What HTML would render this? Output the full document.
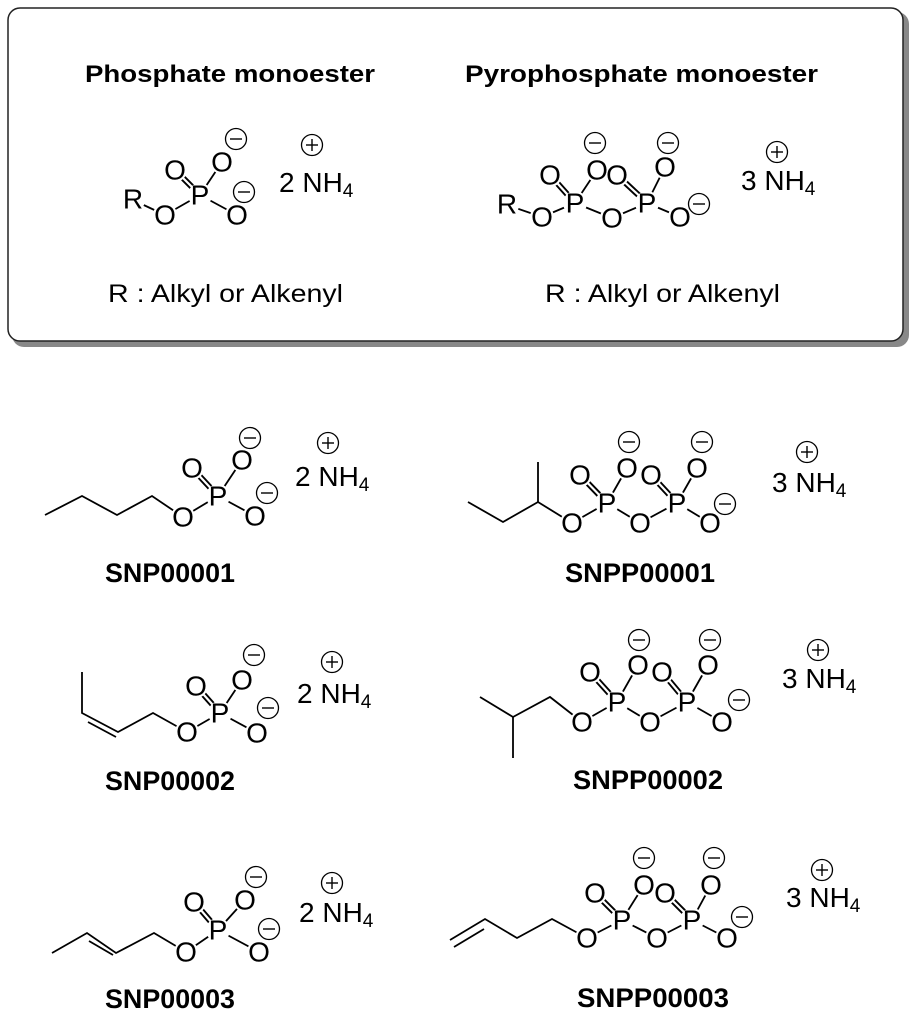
<!DOCTYPE html>
<html><head><meta charset="utf-8"><style>
html,body{margin:0;padding:0;background:#fff}
svg{display:block}
text{font-family:"Liberation Sans",Arial,sans-serif;fill:#000}
.a{font-size:28px;text-anchor:middle;dominant-baseline:central}
.n{font-size:28px}
.l{font-size:27px;font-weight:bold;text-anchor:middle}
line,polyline{stroke:#000;stroke-width:1.8;fill:none}
.d1{stroke-width:6}
.d2{stroke:#fff;stroke-width:2.2}
.bg{fill:#fff}
.ch{fill:#fff;stroke:#000;stroke-width:1.3}
</style></head><body>
<svg width="917" height="1024" viewBox="0 0 917 1024" xmlns="http://www.w3.org/2000/svg">
<defs>
<g id="minus"><circle class="ch" r="10.5"/><line x1="-6" y1="0" x2="6" y2="0" style="stroke-width:1.4"/></g>
<g id="plus"><circle class="ch" r="10.5"/><line x1="-6" y1="0" x2="6" y2="0" style="stroke-width:1.4"/><line x1="0" y1="-6" x2="0" y2="6" style="stroke-width:1.4"/></g>
</defs>
<rect x="12" y="12" width="897" height="335" rx="12" fill="#888"/>
<rect x="8" y="8" width="895" height="333" rx="12" fill="#fff" stroke="#222" stroke-width="1.5"/>
<text x="85" y="82" style="font-size:24px;font-weight:bold" textLength="290" lengthAdjust="spacingAndGlyphs">Phosphate monoester</text>
<text x="465" y="82" style="font-size:24px;font-weight:bold" textLength="353" lengthAdjust="spacingAndGlyphs">Pyrophosphate monoester</text>
<text x="108" y="302" style="font-size:25px" textLength="235" lengthAdjust="spacingAndGlyphs">R : Alkyl or Alkenyl</text>
<text x="545" y="302" style="font-size:25px" textLength="235" lengthAdjust="spacingAndGlyphs">R : Alkyl or Alkenyl</text>

<!-- header mono -->
<g>
<line x1="133" y1="200" x2="165" y2="215"/><line x1="165" y1="215" x2="200" y2="195"/>
<line class="d1" x1="175" y1="170" x2="200" y2="195"/><line class="d2" x1="175" y1="170" x2="200" y2="195"/>
<line x1="200" y1="195" x2="222" y2="162"/><line x1="200" y1="195" x2="237" y2="215"/>
<circle class="bg" cx="133" cy="200" r="12"/><circle class="bg" cx="165" cy="215" r="12"/><circle class="bg" cx="200" cy="195" r="12"/><circle class="bg" cx="175" cy="170" r="12"/><circle class="bg" cx="222" cy="162" r="12"/><circle class="bg" cx="237" cy="215" r="12"/>
<text class="a" x="133" y="199">R</text><text class="a" x="165" y="215">O</text><text class="a" x="200" y="195">P</text><text class="a" x="175" y="170">O</text><text class="a" x="222" y="162">O</text><text class="a" x="237" y="215">O</text>
<use href="#minus" x="236" y="139"/><use href="#minus" x="244" y="192"/>
<text class="n" x="279" y="192">2 NH<tspan font-size="19" dy="5">4</tspan></text><use href="#plus" x="312" y="145"/>
</g>

<!-- header pyro -->
<g>
<line x1="507" y1="205" x2="542" y2="217"/><line x1="542" y1="217" x2="575" y2="203"/>
<line class="d1" x1="550" y1="175" x2="575" y2="203"/><line class="d2" x1="550" y1="175" x2="575" y2="203"/>
<line x1="575" y1="203" x2="597" y2="170"/><line x1="575" y1="203" x2="612" y2="218"/><line x1="612" y1="218" x2="647" y2="203"/>
<line class="d1" x1="617" y1="175" x2="647" y2="203"/><line class="d2" x1="617" y1="175" x2="647" y2="203"/>
<line x1="647" y1="203" x2="665" y2="167"/><line x1="647" y1="203" x2="680" y2="217"/>
<circle class="bg" cx="507" cy="205" r="12"/><circle class="bg" cx="542" cy="217" r="12"/><circle class="bg" cx="575" cy="203" r="12"/><circle class="bg" cx="550" cy="175" r="12"/><circle class="bg" cx="597" cy="170" r="12"/><circle class="bg" cx="612" cy="218" r="12"/><circle class="bg" cx="647" cy="203" r="12"/><circle class="bg" cx="617" cy="175" r="12"/><circle class="bg" cx="665" cy="167" r="12"/><circle class="bg" cx="680" cy="217" r="12"/>
<text class="a" x="507" y="204">R</text><text class="a" x="542" y="217">O</text><text class="a" x="575" y="203">P</text><text class="a" x="550" y="175">O</text><text class="a" x="597" y="170">O</text><text class="a" x="612" y="218">O</text><text class="a" x="647" y="203">P</text><text class="a" x="617" y="175">O</text><text class="a" x="665" y="167">O</text><text class="a" x="680" y="217">O</text>
<use href="#minus" x="595" y="143"/><use href="#minus" x="668" y="143"/><use href="#minus" x="699" y="204"/>
<text class="n" x="741" y="190">3 NH<tspan font-size="19" dy="5">4</tspan></text><use href="#plus" x="777" y="152"/>
</g>

<!-- SNP00001 -->
<g>
<polyline points="45,515 82,496 117,515 152,496 183,517"/>
<line x1="183" y1="517" x2="218" y2="496"/>
<line class="d1" x1="192" y1="468" x2="218" y2="496"/><line class="d2" x1="192" y1="468" x2="218" y2="496"/>
<line x1="218" y1="496" x2="242" y2="460"/><line x1="218" y1="496" x2="255" y2="516"/>
<circle class="bg" cx="183" cy="517" r="12"/><circle class="bg" cx="218" cy="496" r="12"/><circle class="bg" cx="192" cy="468" r="12"/><circle class="bg" cx="242" cy="460" r="12"/><circle class="bg" cx="255" cy="516" r="12"/>
<text class="a" x="183" y="517">O</text><text class="a" x="218" y="496">P</text><text class="a" x="192" y="468">O</text><text class="a" x="242" y="460">O</text><text class="a" x="255" y="516">O</text>
<use href="#minus" x="250" y="438"/><use href="#minus" x="267" y="493"/>
<text class="n" x="295" y="486">2 NH<tspan font-size="19" dy="5">4</tspan></text><use href="#plus" x="328" y="443"/>
<text class="l" x="170" y="582" textLength="130" lengthAdjust="spacingAndGlyphs">SNP00001</text>
</g>

<!-- SNP00002 -->
<g>
<polyline points="82,672 82,713 118,732 153,713 187,732"/>
<line x1="88" y1="722" x2="116" y2="737"/>
<line x1="187" y1="732" x2="220" y2="713"/>
<line class="d1" x1="196" y1="686" x2="220" y2="713"/><line class="d2" x1="196" y1="686" x2="220" y2="713"/>
<line x1="220" y1="713" x2="242" y2="680"/><line x1="220" y1="713" x2="257" y2="733"/>
<circle class="bg" cx="187" cy="732" r="12"/><circle class="bg" cx="220" cy="713" r="12"/><circle class="bg" cx="196" cy="686" r="12"/><circle class="bg" cx="242" cy="680" r="12"/><circle class="bg" cx="257" cy="733" r="12"/>
<text class="a" x="187" y="732">O</text><text class="a" x="220" y="713">P</text><text class="a" x="196" y="686">O</text><text class="a" x="242" y="680">O</text><text class="a" x="257" y="733">O</text>
<use href="#minus" x="254" y="655"/><use href="#minus" x="268" y="708"/>
<text class="n" x="297" y="703">2 NH<tspan font-size="19" dy="5">4</tspan></text><use href="#plus" x="332" y="662"/>
<text class="l" x="170" y="790" textLength="130" lengthAdjust="spacingAndGlyphs">SNP00002</text>
</g>

<!-- SNP00003 -->
<g>
<polyline points="52,953 87,933 116,953 154,933 186,952"/>
<line x1="89" y1="941" x2="113" y2="955"/>
<line x1="186" y1="952" x2="218" y2="930"/>
<line class="d1" x1="194" y1="902" x2="218" y2="930"/><line class="d2" x1="194" y1="902" x2="218" y2="930"/>
<line x1="218" y1="930" x2="245" y2="900"/><line x1="218" y1="930" x2="259" y2="952"/>
<circle class="bg" cx="186" cy="952" r="12"/><circle class="bg" cx="218" cy="930" r="12"/><circle class="bg" cx="194" cy="902" r="12"/><circle class="bg" cx="245" cy="900" r="12"/><circle class="bg" cx="259" cy="952" r="12"/>
<text class="a" x="186" y="952">O</text><text class="a" x="218" y="930">P</text><text class="a" x="194" y="902">O</text><text class="a" x="245" y="900">O</text><text class="a" x="259" y="952">O</text>
<use href="#minus" x="256" y="877"/><use href="#minus" x="269" y="929"/>
<text class="n" x="299" y="922">2 NH<tspan font-size="19" dy="5">4</tspan></text><use href="#plus" x="332" y="883"/>
<text class="l" x="170" y="1008" textLength="130" lengthAdjust="spacingAndGlyphs">SNP00003</text>
</g>

<!-- SNPP00001 -->
<g>
<polyline points="468,502 503,522 538,502 572,523"/><line x1="538" y1="502" x2="538" y2="462"/>
<line x1="572" y1="523" x2="607" y2="503"/>
<line class="d1" x1="580" y1="475" x2="607" y2="503"/><line class="d2" x1="580" y1="475" x2="607" y2="503"/>
<line x1="607" y1="503" x2="627" y2="468"/><line x1="607" y1="503" x2="640" y2="523"/><line x1="640" y1="523" x2="677" y2="503"/>
<line class="d1" x1="651" y1="475" x2="677" y2="503"/><line class="d2" x1="651" y1="475" x2="677" y2="503"/>
<line x1="677" y1="503" x2="697" y2="468"/><line x1="677" y1="503" x2="710" y2="523"/>
<circle class="bg" cx="572" cy="523" r="12"/><circle class="bg" cx="607" cy="503" r="12"/><circle class="bg" cx="580" cy="475" r="12"/><circle class="bg" cx="627" cy="468" r="12"/><circle class="bg" cx="640" cy="523" r="12"/><circle class="bg" cx="677" cy="503" r="12"/><circle class="bg" cx="651" cy="475" r="12"/><circle class="bg" cx="697" cy="468" r="12"/><circle class="bg" cx="710" cy="523" r="12"/>
<text class="a" x="572" y="523">O</text><text class="a" x="607" y="503">P</text><text class="a" x="580" y="475">O</text><text class="a" x="627" y="468">O</text><text class="a" x="640" y="523">O</text><text class="a" x="677" y="503">P</text><text class="a" x="651" y="475">O</text><text class="a" x="697" y="468">O</text><text class="a" x="710" y="523">O</text>
<use href="#minus" x="629" y="442"/><use href="#minus" x="702" y="442"/><use href="#minus" x="725" y="504"/>
<text class="n" x="772" y="492">3 NH<tspan font-size="19" dy="5">4</tspan></text><use href="#plus" x="807" y="452"/>
<text class="l" x="640" y="582" textLength="150" lengthAdjust="spacingAndGlyphs">SNPP00001</text>
</g>

<!-- SNPP00002 -->
<g>
<polyline points="480,697 513,717 550,697 582,722"/><line x1="513" y1="717" x2="513" y2="758"/>
<line x1="582" y1="722" x2="617" y2="702"/>
<line class="d1" x1="590" y1="672" x2="617" y2="702"/><line class="d2" x1="590" y1="672" x2="617" y2="702"/>
<line x1="617" y1="702" x2="638" y2="665"/><line x1="617" y1="702" x2="650" y2="722"/><line x1="650" y1="722" x2="687" y2="702"/>
<line class="d1" x1="662" y1="672" x2="687" y2="702"/><line class="d2" x1="662" y1="672" x2="687" y2="702"/>
<line x1="687" y1="702" x2="708" y2="665"/><line x1="687" y1="702" x2="722" y2="722"/>
<circle class="bg" cx="582" cy="722" r="12"/><circle class="bg" cx="617" cy="702" r="12"/><circle class="bg" cx="590" cy="672" r="12"/><circle class="bg" cx="638" cy="665" r="12"/><circle class="bg" cx="650" cy="722" r="12"/><circle class="bg" cx="687" cy="702" r="12"/><circle class="bg" cx="662" cy="672" r="12"/><circle class="bg" cx="708" cy="665" r="12"/><circle class="bg" cx="722" cy="722" r="12"/>
<text class="a" x="582" y="722">O</text><text class="a" x="617" y="702">P</text><text class="a" x="590" y="672">O</text><text class="a" x="638" y="665">O</text><text class="a" x="650" y="722">O</text><text class="a" x="687" y="702">P</text><text class="a" x="662" y="672">O</text><text class="a" x="708" y="665">O</text><text class="a" x="722" y="722">O</text>
<use href="#minus" x="639" y="640"/><use href="#minus" x="710" y="640"/><use href="#minus" x="739" y="700"/>
<text class="n" x="782" y="688">3 NH<tspan font-size="19" dy="5">4</tspan></text><use href="#plus" x="818" y="650"/>
<text class="l" x="648" y="789" textLength="150" lengthAdjust="spacingAndGlyphs">SNPP00002</text>
</g>

<!-- SNPP00003 -->
<g>
<polyline points="450,940 485,919 517,938 552,919 587,938"/>
<line x1="454" y1="947" x2="484" y2="929"/>
<line x1="587" y1="938" x2="622" y2="920"/>
<line class="d1" x1="595" y1="893" x2="622" y2="920"/><line class="d2" x1="595" y1="893" x2="622" y2="920"/>
<line x1="622" y1="920" x2="644" y2="885"/><line x1="622" y1="920" x2="657" y2="938"/><line x1="657" y1="938" x2="692" y2="920"/>
<line class="d1" x1="665" y1="893" x2="692" y2="920"/><line class="d2" x1="665" y1="893" x2="692" y2="920"/>
<line x1="692" y1="920" x2="711" y2="885"/><line x1="692" y1="920" x2="727" y2="938"/>
<circle class="bg" cx="587" cy="938" r="12"/><circle class="bg" cx="622" cy="920" r="12"/><circle class="bg" cx="595" cy="893" r="12"/><circle class="bg" cx="644" cy="885" r="12"/><circle class="bg" cx="657" cy="938" r="12"/><circle class="bg" cx="692" cy="920" r="12"/><circle class="bg" cx="665" cy="893" r="12"/><circle class="bg" cx="711" cy="885" r="12"/><circle class="bg" cx="727" cy="938" r="12"/>
<text class="a" x="587" y="938">O</text><text class="a" x="622" y="920">P</text><text class="a" x="595" y="893">O</text><text class="a" x="644" y="885">O</text><text class="a" x="657" y="938">O</text><text class="a" x="692" y="920">P</text><text class="a" x="665" y="893">O</text><text class="a" x="711" y="885">O</text><text class="a" x="727" y="938">O</text>
<use href="#minus" x="644" y="858"/><use href="#minus" x="714" y="858"/><use href="#minus" x="742" y="917"/>
<text class="n" x="786" y="907">3 NH<tspan font-size="19" dy="5">4</tspan></text><use href="#plus" x="822" y="870"/>
<text class="l" x="653" y="1007" textLength="152" lengthAdjust="spacingAndGlyphs">SNPP00003</text>
</g>
</svg>
</body></html>
